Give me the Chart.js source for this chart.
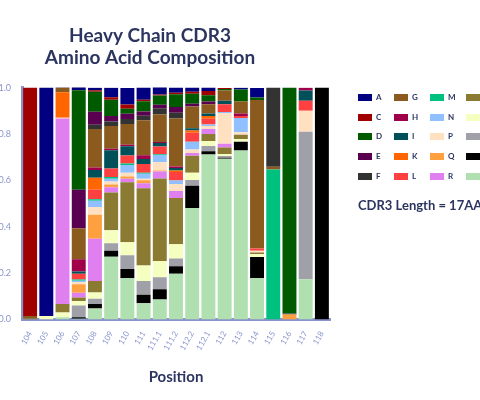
<!DOCTYPE html>
<html><head><meta charset="utf-8">
<script src="https://cdn.jsdelivr.net/npm/chart.js@4"></script>
<style>
body{margin:0;width:480px;height:400px;overflow:hidden;background:#fff;font-family:Lato,sans-serif;position:relative}
#wrap{position:absolute;left:-30px;top:0;width:410px;height:400px}
#leg{position:absolute;left:358px;top:92px}
.it{position:absolute;font:bold 8px Lato;color:#2c3560;white-space:nowrap}
.it span{display:inline-block;width:14px;height:7px;margin-right:4px;vertical-align:-1px}
#len{position:absolute;left:358px;top:197px;font:bold 13px Lato;color:#2c3560;white-space:nowrap}
</style></head><body>
<div id="wrap"><canvas id="c" width="410" height="400"></canvas></div>
<div id="leg"></div>
<div id="len">CDR3 Length = 17AA</div>
<script>
const positions=["104","105","106","107","108","109","110","111","111.1","111.2","112.2","112.1","112","113","114","115","116","117","118"];
const aminoAcids=["A","C","D","E","F","G","H","I","K","L","M","N","P","Q","R","S","T","V","W","Y"];
const colors=["#000080","#a00000","#005a00","#5a0050","#333333","#8b5a1e","#a0004a","#00505a","#ff6600","#ff4040","#00c080","#90c0ff","#ffe0c0","#ffa040","#e080f0","#8b7a32","#f5ffc0","#a0a0a8","#000000","#b0e0b0"];
// fractions per position
const A=[0,0.985,0.003,0.015,0.01,0.041,0.071,0.052,0.034,0.022,0.018,0.015,0,0.007,0.041,0,0,0,0];
const C=[0.985,0,0,0,0.007,0.01,0.018,0.007,0.004,0.007,0.009,0.018,0.004,0,0,0,0,0,0];
const D=[0,0,0,0.43,0.086,0.07,0.022,0.044,0.04,0.055,0.043,0.027,0.007,0.052,0.01,0,0.974,0,0];
const E=[0,0,0,0.166,0.056,0.024,0.022,0.018,0.015,0.024,0.012,0.012,0,0,0,0,0,0,0];
const F=[0,0,0,0,0.018,0.02,0.022,0.02,0.027,0.025,0,0,0,0,0,0.341,0.004,0,0];
const G=[0.01,0,0.02,0.133,0.167,0.098,0.089,0.151,0.119,0.207,0.093,0.04,0.044,0.052,0.641,0.012,0,0,0];
const H=[0,0,0,0.053,0.01,0.006,0.007,0.016,0.004,0.007,0,0,0,0.01,0,0,0,0.012,0];
const I=[0,0,0,0.01,0.034,0.079,0.04,0.022,0.015,0.01,0.01,0.01,0.015,0,0,0,0,0.044,0];
const K=[0,0,0.11,0,0.052,0,0,0,0,0.007,0.01,0.012,0,0,0,0,0,0,0];
const L=[0,0,0,0.025,0.04,0.037,0.034,0.037,0.033,0.037,0.039,0.025,0.033,0.009,0.01,0,0,0.043,0];
const M=[0,0,0,0.005,0.007,0.007,0.007,0.004,0.004,0,0,0,0,0,0,0.647,0,0,0];
const N=[0,0,0,0.005,0.027,0.012,0.033,0.022,0.031,0.015,0.033,0.007,0.004,0.062,0,0,0,0,0];
const P=[0,0,0.003,0.01,0.033,0.013,0.016,0.007,0.035,0.03,0.015,0.012,0.133,0.01,0.007,0,0,0.09,0];
const Q=[0,0,0,0.037,0.104,0.012,0.01,0.012,0.005,0,0,0,0,0,0,0,0.022,0,0];
const R=[0,0,0.8,0.02,0.182,0.022,0.015,0.022,0.03,0.03,0.012,0.022,0.016,0,0,0,0,0,0];
const S=[0.005,0,0.037,0.015,0.05,0.163,0.259,0.333,0.356,0.2,0.073,0.03,0.028,0.019,0.007,0,0,0,0];
const T=[0,0.015,0.02,0.02,0.027,0.056,0.056,0.067,0.07,0.061,0.031,0.022,0.009,0.012,0.012,0,0,0,0];
const V=[0,0,0,0.05,0.022,0.033,0.059,0.059,0.052,0.033,0.025,0.022,0.007,0,0,0,0,0.637,0];
const W=[0,0,0,0.007,0.02,0.025,0.04,0.037,0.044,0.033,0.096,0.015,0.005,0.037,0.092,0,0,0,1];
const Y=[0,0,0.01,0.003,0.047,0.271,0.178,0.07,0.086,0.197,0.481,0.711,0.693,0.729,0.178,0,0,0.173,0];
const yTicks=["0.0","0.2","0.4","0.6","0.8","1.0"];
const values={A,C,D,E,F,G,H,I,K,L,M,N,P,Q,R,S,T,V,W,Y};
const ds=aminoAcids.map((a,i)=>({label:a,data:values[a],backgroundColor:colors[i],borderWidth:0,categoryPercentage:0.86,barPercentage:1})).reverse();
const axisCol="#8a94cc";
new Chart(document.getElementById('c'),{type:'bar',data:{labels:positions,datasets:ds},
options:{responsive:false,animation:false,devicePixelRatio:1,
layout:{padding:{top:24,right:50,bottom:10,left:0}},
plugins:{legend:{display:false},tooltip:{enabled:false},
title:{display:true,text:["Heavy Chain CDR3","Amino Acid Composition"],color:"#2c3560",font:{family:"Lato",size:19,weight:"bold"},padding:{bottom:18},lineHeight:1.15}},
scales:{
x:{stacked:true,grid:{display:false},border:{color:axisCol,width:3},ticks:{autoSkip:false,color:axisCol,font:{size:8,family:"Lato"},minRotation:60,maxRotation:60,padding:2},
title:{display:true,text:"Position",color:"#2c3560",font:{family:"Lato",size:15,weight:"bold"},padding:{top:14}}},
y:{stacked:true,min:0,max:1,afterFit:s=>{s.width=52},grid:{display:false},border:{color:axisCol,width:3},
ticks:{stepSize:0.2,color:axisCol,font:{size:9,family:"Lato"},callback:(v,i)=>yTicks[i]}}}}});
const leg=document.getElementById('leg');
aminoAcids.forEach((a,i)=>{const d=document.createElement('div');d.className='it';
d.style.left=(Math.floor(i/5)*36)+'px';d.style.top=((i%5)*19.7)+'px';
d.innerHTML='<span style="background:'+colors[i]+'"></span>'+a;leg.appendChild(d);});
</script></body></html>
